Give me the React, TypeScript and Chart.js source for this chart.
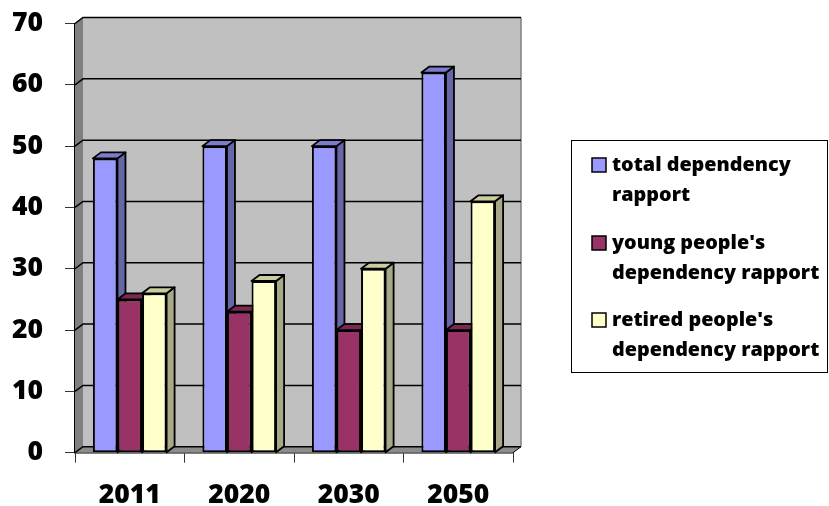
import React, { useEffect, useRef } from "react";
import { Chart, registerables } from "chart.js";

Chart.register(...registerables);

const categories = ["2011", "2020", "2030", "2050"];
const totalDependency = [48, 50, 50, 62];
const youngDependency = [25, 23, 20, 20];
const retiredDependency = [26, 28, 30, 41];
const seriesLabels = [
  "total dependency rapport",
  "young people's dependency rapport",
  "retired people's dependency rapport",
];
const yTicks = [0, 10, 20, 30, 40, 50, 60, 70];

const frontColors = ["#9999FF", "#993366", "#FFFFCC"];
const sideColors = ["#6666A8", "#662244", "#A8A888"];
const topColors = ["#7C7CCC", "#7A2952", "#CCCCA3"];

const FONT = "'Open Sans'";
const WEIGHT = "800";
const DX = 8;
const DY = -6;

const wallsPlugin = {
  id: "walls3d",
  beforeDatasetsDraw(chart: any) {
    const { ctx, chartArea } = chart;
    const { left, right, top, bottom } = chartArea;
    const yScale = chart.scales.y;
    ctx.save();
    ctx.fillStyle = "#C0C0C0";
    ctx.fillRect(left + DX, top + DY, right - left, bottom - top);
    ctx.fillStyle = "#808080";
    ctx.beginPath();
    ctx.moveTo(left, top);
    ctx.lineTo(left + DX, top + DY);
    ctx.lineTo(left + DX, bottom + DY);
    ctx.lineTo(left, bottom);
    ctx.closePath();
    ctx.fill();
    ctx.fillStyle = "#8C8C8C";
    ctx.beginPath();
    ctx.moveTo(left, bottom);
    ctx.lineTo(left + DX, bottom + DY);
    ctx.lineTo(right + DX, bottom + DY);
    ctx.lineTo(right, bottom);
    ctx.closePath();
    ctx.fill();
    ctx.strokeStyle = "#808080";
    ctx.lineWidth = 1.5;
    ctx.beginPath();
    ctx.moveTo(right + DX, top + DY);
    ctx.lineTo(right + DX, bottom + DY);
    ctx.stroke();
    ctx.strokeStyle = "#000";
    ctx.lineWidth = 1;
    ctx.beginPath();
    ctx.moveTo(right, bottom);
    ctx.lineTo(right + DX, bottom + DY);
    ctx.stroke();
    ctx.strokeStyle = "#000";
    ctx.lineWidth = 1.5;
    yTicks.forEach((v) => {
      const yv = yScale.getPixelForValue(v);
      ctx.beginPath();
      ctx.moveTo(left, yv);
      ctx.lineTo(left + DX, yv + DY);
      ctx.lineTo(right + DX, yv + DY);
      ctx.stroke();
    });
    const metas = chart.getSortedVisibleDatasetMetas();
    const n = categories.length;
    for (let c = 0; c < n; c++) {
      metas.forEach((meta: any) => {
        const di = meta.index;
        const el = meta.data[c];
        if (!el) return;
        const { x, y, base, width } = el.getProps(["x", "y", "base", "width"], true);
        const l = x - width / 2;
        const r = x + width / 2;
        ctx.lineWidth = 1.8;
        ctx.strokeStyle = "#000";
        ctx.lineJoin = "round";
        ctx.fillStyle = sideColors[di];
        ctx.beginPath();
        ctx.moveTo(r, y);
        ctx.lineTo(r + DX, y + DY);
        ctx.lineTo(r + DX, base + DY);
        ctx.lineTo(r, base);
        ctx.closePath();
        ctx.fill();
        ctx.stroke();
        ctx.fillStyle = topColors[di];
        ctx.beginPath();
        ctx.moveTo(l, y);
        ctx.lineTo(l + DX, y + DY);
        ctx.lineTo(r + DX, y + DY);
        ctx.lineTo(r, y);
        ctx.closePath();
        ctx.fill();
        ctx.stroke();
      });
    }
    ctx.restore();
  },
};

const legendPlugin = {
  id: "legendBox",
  afterDraw(chart: any) {
    const { ctx } = chart;
    const boxX = 571;
    const boxY = 140;
    const boxW = 256;
    const boxH = 232;
    ctx.save();
    ctx.strokeStyle = "#000";
    ctx.lineWidth = 1;
    ctx.strokeRect(boxX + 0.5, boxY + 0.5, boxW, boxH);
    ctx.font = `${WEIGHT} 19.8px ${FONT}`;
    ctx.textBaseline = "middle";
    ctx.fillStyle = "#000";
    const textX = 612;
    const maxW = 212;
    const itemStarts = [165, 243, 320];
    const lineH = 30.5;
    chart.data.datasets.forEach((ds: any, i: number) => {
      const words = String(ds.label).split(" ");
      const lines: string[] = [];
      let cur = "";
      words.forEach((w) => {
        const test = cur ? cur + " " + w : w;
        if (ctx.measureText(test).width > maxW && cur) {
          lines.push(cur);
          cur = w;
        } else cur = test;
      });
      if (cur) lines.push(cur);
      const y0 = itemStarts[i];
      ctx.fillStyle = frontColors[i];
      ctx.fillRect(592, y0 - 7, 14, 14);
      ctx.lineWidth = 1.5;
      ctx.strokeStyle = "#000";
      ctx.strokeRect(592, y0 - 7, 14, 14);
      ctx.fillStyle = "#000";
      lines.forEach((ln, k) => ctx.fillText(ln, textX, y0 + k * lineH));
    });
    ctx.restore();
  },
};

export default function App() {
  const ref = useRef<HTMLCanvasElement>(null);
  useEffect(() => {
    document.body.style.margin = "0";
    if (!ref.current) return;
    const datasets = [totalDependency, youngDependency, retiredDependency].map((d, i) => ({
      label: seriesLabels[i],
      data: d,
      backgroundColor: frontColors[i],
      borderColor: "#000",
      borderWidth: 2,
      borderSkipped: false as any,
      categoryPercentage: 0.673,
      barPercentage: 1,
    }));
    const chart = new Chart(ref.current, {
      type: "bar",
      data: { labels: categories, datasets },
      options: {
        responsive: false,
        animation: false,
        layout: { padding: { top: 23.5, right: 316, left: 0, bottom: 0 } },
        plugins: { legend: { display: false }, tooltip: { enabled: false } },
        scales: {
          x: {
            z: 1,
            grid: {
              offset: true,
              drawOnChartArea: false,
              drawTicks: true,
              tickLength: 10,
              color: "#333",
              lineWidth: 1,
            },
            border: { display: true, color: "#000", width: 1.5 },
            ticks: {
              color: "#000",
              padding: 17,
              font: { family: FONT, weight: WEIGHT as any, size: 26.5 },
            },
            afterFit: (s: any) => {
              s.height = 506 - 452.7;
              s.paddingLeft = 0;
              s.paddingRight = 0;
            },
          },
          y: {
            z: 1,
            min: 0,
            max: 70,
            ticks: {
              stepSize: 10,
              color: "#000",
              padding: 22,
              font: { family: FONT, weight: WEIGHT as any, size: 26.5 },
            },
            grid: {
              drawOnChartArea: false,
              drawTicks: true,
              tickLength: 10,
              color: "#333",
              lineWidth: 1,
            },
            border: { display: true, color: "#000", width: 1.5 },
            afterFit: (s: any) => {
              s.width = 75;
              s.paddingTop = 0;
              s.paddingBottom = 0;
            },
          },
        },
      },
      plugins: [wallsPlugin, legendPlugin],
    });
    return () => chart.destroy();
  }, []);
  return (
    <div style={{ width: 829, height: 506, background: "#fff" }}>
      <canvas ref={ref} width={829} height={506} />
    </div>
  );
}
